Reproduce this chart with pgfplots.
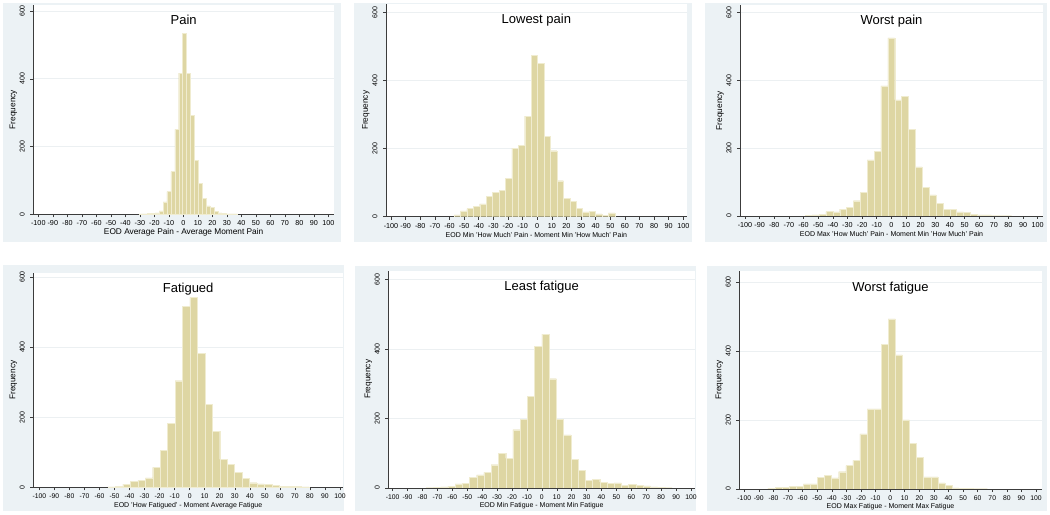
\documentclass[border=0pt]{standalone}
\usepackage{pgfplots}
\pgfplotsset{compat=1.18}
\usepackage{fontspec}
\setmainfont{Liberation Sans}
\definecolor{barfill}{RGB}{222,214,163}
\definecolor{baredge}{RGB}{240,236,208}
\definecolor{panelbg}{RGB}{236,242,245}
\definecolor{gridc}{RGB}{236,240,242}
\definecolor{axc}{RGB}{60,60,60}
\pgfplotsset{
  hist/.style={
    scale only axis, anchor=south west,
    axis x line=bottom, axis y line=left,
    x axis line style={-, axc, line width=0.6bp},
    y axis line style={-, axc, line width=0.6bp},
    axis background/.style={fill=white},
    ymin=0,
    xtick={-100,-90,...,100}, ytick={0,200,400,600},
    tick align=outside, major tick length=3bp,
    tick style={axc, line width=0.5bp},
    ymajorgrids, grid style={gridc, line width=0.6bp},
    /pgf/number format/assume math mode=true,
    /pgf/number format/1000 sep={},
    yticklabel style={xshift=-2bp, rotate=90, anchor=south, font=\fontsize{7bp}{8bp}\selectfont},
    every axis x label/.style={at={(axis description cs:0.5,0)}, anchor=center, yshift=-18bp},
    every axis y label/.style={at={(axis description cs:0,0.5)}, xshift=-20bp, rotate=90, anchor=center, font=\fontsize{8.3bp}{9bp}\selectfont},
    ylabel={Frequency},
    every axis title/.style={at={(axis description cs:0.5,1)}, anchor=base, yshift=-20bp, font=\fontsize{13bp}{15bp}\selectfont},
  },
  toprow/.style={xticklabel style={font=\fontsize{7.2bp}{8bp}\selectfont}, xlabel style={font=\fontsize{7bp}{8bp}\selectfont}},
  botrow/.style={xticklabel style={font=\fontsize{6.8bp}{8bp}\selectfont}, xlabel style={font=\fontsize{7bp}{8bp}\selectfont}},
  bars/.style={ybar interval, fill=barfill, draw=baredge, line width=0.3bp},
}
\begin{document}
\begin{tikzpicture}
\useasboundingbox (0,0) rectangle (1050bp,515bp);
\fill[white] (0,0) rectangle (1050bp,515bp);
\fill[panelbg] (3bp,273bp) rectangle (341bp,512bp);
\fill[panelbg] (354bp,273bp) rectangle (692bp,512bp);
\fill[panelbg] (705bp,273bp) rectangle (1047bp,512bp);
\fill[panelbg] (3bp,4bp) rectangle (344bp,250bp);
\fill[panelbg] (355bp,4bp) rectangle (696bp,249bp);
\fill[panelbg] (707bp,4bp) rectangle (1047bp,249bp);

% Panel 1: Pain
\begin{axis}[hist, toprow, at={(33.3bp,300.7bp)}, width=300.7bp, height=209.3bp,
  xmin=-103.45, xmax=103.9, ymax=617.8, title={Pain},
  xlabel={EOD Average Pain - Average Moment Pain},
  xlabel style={font=\fontsize{8.3bp}{9bp}\selectfont}]
\addplot[bars] coordinates {(-30.2,1) (-27.5,1) (-24.8,2) (-22.1,2) (-19.4,4) (-16.7,10) (-14.0,37) (-11.3,67) (-8.6,126) (-5.9,251) (-3.2,417) (-0.5,534) (2.2,417) (4.9,293) (7.6,160) (10.3,91) (13.0,47) (15.7,25) (18.4,20) (21.1,8) (23.8,4) (26.5,2) (29.2,1) (31.9,1) (34.6,1) (37.3,0)};
\end{axis}

% Panel 2: Lowest pain
\begin{axis}[hist, toprow, at={(386bp,298.3bp)}, width=300.7bp, height=212.7bp,
  xmin=-103.42, xmax=102.3, ymax=625.6, title={Lowest pain},
  xlabel={EOD Min 'How Much' Pain - Moment Min 'How Much' Pain}]
\addplot[bars] coordinates {(-56.9,5) (-52.5,17) (-48.1,24) (-43.7,30) (-39.3,38) (-34.9,60) (-30.5,72) (-26.1,78) (-21.7,113) (-17.3,202) (-12.9,209) (-8.5,296) (-4.1,474) (0.3,451) (4.7,237) (9.1,194) (13.5,106) (17.9,54) (22.3,46) (26.7,25) (31.1,14) (35.5,16) (39.9,8) (44.3,4) (48.7,11) (53.1,0)};
\end{axis}

% Panel 3: Worst pain
\begin{axis}[hist, toprow, at={(740bp,299bp)}, width=303bp, height=211bp,
  xmin=-103.4, xmax=103.6, ymax=621.5, title={Worst pain},
  xlabel={EOD Max 'How Much' Pain - Moment Min 'How Much' Pain}]
\addplot[bars] coordinates {(-58.8,2) (-54.1,3) (-49.4,5) (-44.7,13) (-40.0,12) (-35.3,20) (-30.6,26) (-25.9,45) (-21.2,70) (-16.5,165) (-11.8,190) (-7.1,383) (-2.4,525) (2.3,342) (7.0,352) (11.7,256) (16.4,145) (21.1,85) (25.8,62) (30.5,37) (35.2,20) (39.9,20) (44.6,12) (49.3,10) (54.0,4) (58.7,3) (63.4,3) (68.1,1) (72.8,1) (77.5,1) (82.2,0)};
\end{axis}

% Panel 4: Fatigued
\begin{axis}[hist, botrow, at={(33.3bp,27.7bp)}, width=309.7bp, height=214.3bp,
  xmin=-104, xmax=102, ymax=611.4, title={Fatigued},
  xlabel={EOD 'How Fatigued' - Moment Average Fatigue}]
\addplot[bars] coordinates {(-54.25,1) (-49.3,3) (-44.35,9) (-39.4,17) (-34.45,19) (-29.5,27) (-24.55,57) (-19.6,106) (-14.65,182) (-9.7,304) (-4.75,516) (0.2,542) (5.15,383) (10.1,236) (15.05,160) (20.0,80) (24.95,65) (29.9,43) (34.85,25) (39.8,13) (44.75,10) (49.7,9) (54.65,5) (59.6,2) (64.55,2) (69.5,3) (74.45,1) (79.4,0)};
\end{axis}

% Panel 5: Least fatigue
\begin{axis}[hist, botrow, at={(388.3bp,27bp)}, width=306.7bp, height=217.3bp,
  xmin=-102.95, xmax=102.7, ymax=626, title={Least fatigue},
  xlabel={EOD Min Fatigue - Moment Min Fatigue}]
\addplot[bars] coordinates {(-77.6,1) (-72.75,2) (-67.9,3) (-63.05,4) (-58.2,12) (-53.35,14) (-48.5,30) (-43.65,38) (-38.8,45) (-33.95,67) (-29.1,100) (-24.25,85) (-19.4,168) (-14.55,198) (-9.7,265) (-4.85,408) (0,443) (4.85,315) (9.7,198) (14.55,153) (19.4,82) (24.25,50) (29.1,23) (33.95,25) (38.8,17) (43.65,14) (48.5,15) (53.35,7) (58.2,10) (63.05,8) (67.9,6) (72.75,3) (77.6,2) (82.45,1) (87.3,0)};
\end{axis}

% Panel 6: Worst fatigue
\begin{axis}[hist, botrow, at={(739.3bp,26bp)}, width=302.4bp, height=217.7bp,
  xmin=-103.4, xmax=103.9, ymax=631, title={Worst fatigue},
  xlabel={EOD Max Fatigue - Moment Max Fatigue}]
\addplot[bars] coordinates {(-83.75,2) (-78.9,4) (-74.05,5) (-69.2,8) (-64.35,8) (-59.5,15) (-54.65,15) (-49.8,33) (-44.95,40) (-40.1,32) (-35.25,50) (-30.4,68) (-25.55,83) (-20.7,160) (-15.85,232) (-11.0,232) (-6.15,420) (-1.3,493) (3.55,389) (8.4,200) (13.25,132) (18.1,92) (22.95,35) (27.8,35) (32.65,18) (37.5,11) (42.35,3) (47.2,2) (52.05,2) (56.9,1) (61.75,1) (66.6,0)};
\end{axis}
\end{tikzpicture}
\end{document}
